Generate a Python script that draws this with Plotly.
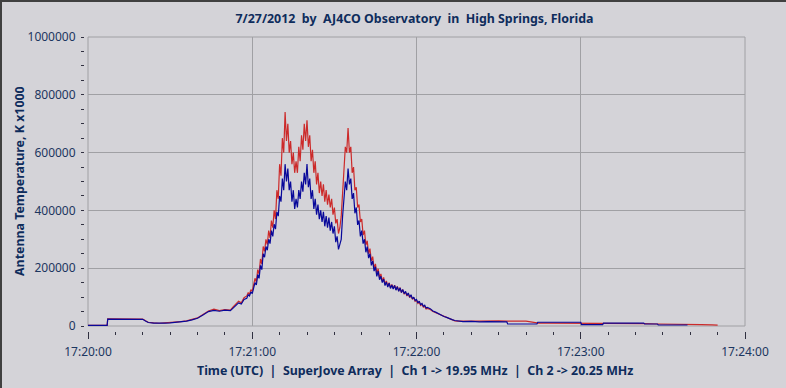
import datetime as dt
import plotly.graph_objects as go

# ---- data (seconds after 17:20:00 UTC) ----
t_sec = [
    0, 7, 7.2, 10, 13, 16, 19, 20, 21, 22,
    24, 26, 28, 30, 32, 34, 36, 38, 40, 42,
    44, 46, 48, 50, 52, 53, 54, 55, 56, 57,
    58, 58.5, 59, 59.5, 60, 60.5, 61, 61.5, 62, 62.5,
    63, 63.5, 64, 64.5, 65, 65.5, 66, 66.5, 67, 67.5,
    68, 68.5, 69, 69.5, 70, 70.5, 71, 71.5, 72, 72.5,
    73, 73.5, 74, 74.5, 75, 75.5, 76, 76.5, 77, 77.5,
    78, 78.5, 79, 79.5, 80, 80.5, 81, 81.5, 82, 82.5,
    83, 83.5, 84, 84.5, 85, 85.5, 86, 86.5, 87, 87.5,
    88, 88.5, 89, 89.5, 90, 90.5, 91, 91.5, 92, 92.5,
    93, 93.5, 94, 94.5, 95, 95.5, 96, 96.5, 97, 97.5,
    98, 98.5, 99, 99.5, 100, 100.5, 101, 101.5, 102, 102.5,
    103, 103.5, 104, 104.5, 105, 105.5, 106, 106.5, 107, 107.5,
    108, 108.5, 109, 109.5, 110, 110.5, 111, 111.5, 112, 112.5,
    113, 113.5, 114, 114.5, 115, 115.5, 116, 116.5, 117, 117.5,
    118, 118.5, 119, 119.5, 120, 120.5, 121, 121.5, 122, 122.5,
    123, 123.5, 124,
    125, 126, 127, 128, 129, 130, 131, 132, 133, 134,
    135, 137, 140, 143, 146, 150, 153, 153.3, 157, 160,
    164, 164.3, 168, 172, 176, 180, 180.3, 184, 188, 188.3,
    192, 196, 200, 203, 203.3, 208, 208.3, 212, 216, 219,
    220, 224, 228, 230,
]

ch1_19_95 = [
    2000, 2000, 24000, 24000, 24000, 24500, 24000, 23000, 17000, 12000,
    10000, 9000, 10000, 11000, 13000, 14000, 17000, 21000, 27000, 38000,
    50000, 54000, 51000, 55000, 53000, 62000, 72000, 80000, 76000, 92000,
    96000, 108000, 104000, 118000, 112000, 135000, 150000, 142000, 178000, 165000,
    210000, 195000, 250000, 238000, 275000, 262000, 300000, 285000, 330000, 310000,
    352000, 335000, 395000, 380000, 450000, 430000, 510000, 470000, 560000, 500000,
    545000, 470000, 500000, 430000, 470000, 405000, 440000, 410000, 470000, 440000,
    500000, 465000, 530000, 490000, 560000, 480000, 510000, 440000, 470000, 405000,
    440000, 385000, 420000, 370000, 400000, 360000, 395000, 345000, 380000, 340000,
    375000, 330000, 360000, 320000, 345000, 290000, 310000, 265000, 285000, 300000,
    380000, 430000, 500000, 470000, 545000, 490000, 510000, 440000, 460000, 390000,
    410000, 350000, 365000, 310000, 330000, 285000, 300000, 255000, 275000, 235000,
    250000, 210000, 225000, 190000, 205000, 172000, 190000, 160000, 172000, 150000,
    162000, 140000, 152000, 135000, 148000, 130000, 142000, 128000, 140000, 124000,
    136000, 120000, 132000, 116000, 126000, 112000, 120000, 106000, 114000, 100000,
    108000, 94000, 100000, 88000, 92000, 80000, 86000, 74000, 78000, 68000,
    72000, 62000, 64000,
    60000, 52000, 48000, 42000, 38000, 33000, 30000, 25000, 22000, 19000,
    17000, 15000, 16000, 14000, 15000, 14000, 14000, 7000, 7000, 6500,
    7000, 13000, 13000, 12500, 13000, 13000, 4500, 4500, 4500, 10000,
    10500, 11000, 10000, 10000, 7000, 7000, 3500, 3500, 3500, 3500,
    None, None, None, None,
]

ch2_20_25 = [
    2000, 2000, 25000, 25000, 25000, 25000, 25500, 24000, 18000, 13000,
    11000, 9500, 11000, 12000, 14000, 15000, 18000, 22000, 28000, 40000,
    52000, 58000, 53000, 57000, 55000, 66000, 78000, 86000, 80000, 98000,
    104000, 115000, 110000, 126000, 120000, 145000, 165000, 152000, 195000, 180000,
    232000, 215000, 275000, 258000, 300000, 282000, 330000, 305000, 365000, 340000,
    400000, 370000, 470000, 440000, 560000, 520000, 650000, 600000, 740000, 640000,
    700000, 600000, 640000, 560000, 600000, 530000, 570000, 530000, 620000, 570000,
    660000, 610000, 700000, 640000, 712000, 620000, 660000, 570000, 610000, 530000,
    570000, 490000, 530000, 460000, 500000, 450000, 490000, 430000, 470000, 420000,
    455000, 410000, 440000, 385000, 410000, 355000, 370000, 320000, 340000, 380000,
    480000, 540000, 620000, 600000, 685000, 600000, 620000, 530000, 550000, 470000,
    480000, 410000, 420000, 360000, 370000, 315000, 330000, 280000, 295000, 250000,
    268000, 225000, 240000, 200000, 215000, 182000, 198000, 168000, 180000, 155000,
    168000, 145000, 156000, 138000, 150000, 132000, 144000, 130000, 141000, 126000,
    137000, 121000, 133000, 116000, 126000, 110000, 118000, 104000, 112000, 98000,
    106000, 92000, 98000, 86000, 90000, 78000, 83000, 71000, 75000, 65000,
    68000, 59000, 61000,
    57000, 50000, 46000, 41000, 36000, 32000, 29000, 24000, 21000, 18000,
    17000, 16000, 17000, 17000, 18000, 17500, 17000, 17000, 17000, 17000,
    11000, 10000, 10000, 10000, 10000, 9000, 9000, 8000, 8000, 8000,
    9000, 10000, 9000, 8500, 8000, 7000, 7000, 6500, 6000, 6000,
    5500, 5000, 4000, 3000,
]

x_range = ["2012-07-27 17:20:00", "2012-07-27 17:24:00"]
y_ticks = [0, 200000, 400000, 600000, 800000, 1000000]

title_text = "7/27/2012\u00a0 by\u00a0 AJ4CO Observatory\u00a0 in\u00a0 High Springs, Florida"
x_title = ("Time (UTC)\u00a0 |\u00a0 SuperJove Array\u00a0 |\u00a0 Ch 1 -> 19.95 MHz"
           "\u00a0 |\u00a0 Ch 2 -> 20.25 MHz")
y_title = "Antenna Temperature, K x1000"

base = dt.datetime(2012, 7, 27, 17, 20, 0)
times = [base + dt.timedelta(seconds=s) for s in t_sec]

BG = "#d4d3d8"
GRID = "#a0a0a4"
TXT = "#1c3660"
TTL = "#0e2c5c"
FONT = "Noto Sans"

fig = go.Figure()
fig.add_trace(go.Scatter(x=times, y=ch2_20_25, mode="lines",
                         line=dict(color="#cc2a2a", width=1.2), name="Ch 2"))
fig.add_trace(go.Scatter(x=times, y=ch1_19_95, mode="lines",
                         line=dict(color="#08089a", width=1.2), name="Ch 1"))

# margins: paper area x 84..745, y 37..338
fig.update_layout(
    width=786, height=388,
    margin=dict(l=84, r=41, t=37, b=50, autoexpand=False),
    paper_bgcolor=BG, plot_bgcolor=BG,
    showlegend=False,
    font=dict(family=FONT, size=12, color=TXT),
    title=dict(text=title_text, x=0.5, xref="paper", xanchor="center",
               y=1 - 19 / 388, yref="container", yanchor="middle",
               font=dict(family=FONT, size=12.4, color=TTL, weight="bold")),
    xaxis=dict(
        type="date", range=x_range, domain=[4 / 661, 1],
        anchor="free", position=7 / 301,
        dtick=60000, tick0=x_range[0], tickformat="%H:%M:%S",
        showgrid=True, gridcolor=GRID, gridwidth=1,
        zeroline=False, showline=False,
        ticks="outside", ticklen=7, tickcolor="#303040", tickwidth=1,
        ticklabelstandoff=3,
        tickfont=dict(family=FONT, size=12, color=TXT),
        minor=dict(dtick=10000, ticks="outside", ticklen=3, tickcolor="#303040",
                   showgrid=False),
        automargin=False,
    ),
    yaxis=dict(
        range=[0, 1000000], domain=[12 / 301, 1],
        anchor="free", position=0,
        tickvals=y_ticks, tickformat="d",
        showgrid=True, gridcolor=GRID, gridwidth=1,
        zeroline=False, showline=False,
        ticks="outside", ticklen=2, tickcolor="#303040", tickwidth=1,
        ticklabelstandoff=4,
        tickfont=dict(family=FONT, size=12, color=TXT),
        minor=dict(dtick=50000, tick0=0, ticks="outside", ticklen=3,
                   tickcolor="#303040", showgrid=False),
        automargin=False,
    ),
    annotations=[
        dict(text=x_title, xref="paper", yref="paper",
             x=(415 - 84) / 661, y=(338 - 370) / 301,
             xanchor="center", yanchor="middle", showarrow=False,
             font=dict(family=FONT, size=12.4, color=TTL, weight="bold")),
        dict(text=y_title, xref="paper", yref="paper",
             x=(19 - 84) / 661, y=(338 - 181) / 301, textangle=-90,
             xanchor="center", yanchor="middle", showarrow=False,
             font=dict(family=FONT, size=12.4, color=TTL, weight="bold")),
    ],
    shapes=[
        dict(type="rect", xref="x domain", yref="y domain", x0=0, x1=1, y0=0, y1=1,
             line=dict(color=GRID, width=1), layer="below"),
        # outer sunken frame
        dict(type="line", xref="paper", yref="paper",
             x0=(1 - 84) / 661, x1=(1 - 84) / 661, y0=(338 - 0) / 301, y1=(338 - 388) / 301,
             line=dict(color="#404040", width=2)),
        dict(type="line", xref="paper", yref="paper",
             x0=(0 - 84) / 661, x1=(786 - 84) / 661, y0=(338 - 1) / 301, y1=(338 - 1) / 301,
             line=dict(color="#404040", width=2)),
    ],
)

fig.write_html("out.html",
               config={"displayModeBar": False},
               post_script="document.body.style.margin='0';"
                           "document.body.style.background='#d4d3d8';")
